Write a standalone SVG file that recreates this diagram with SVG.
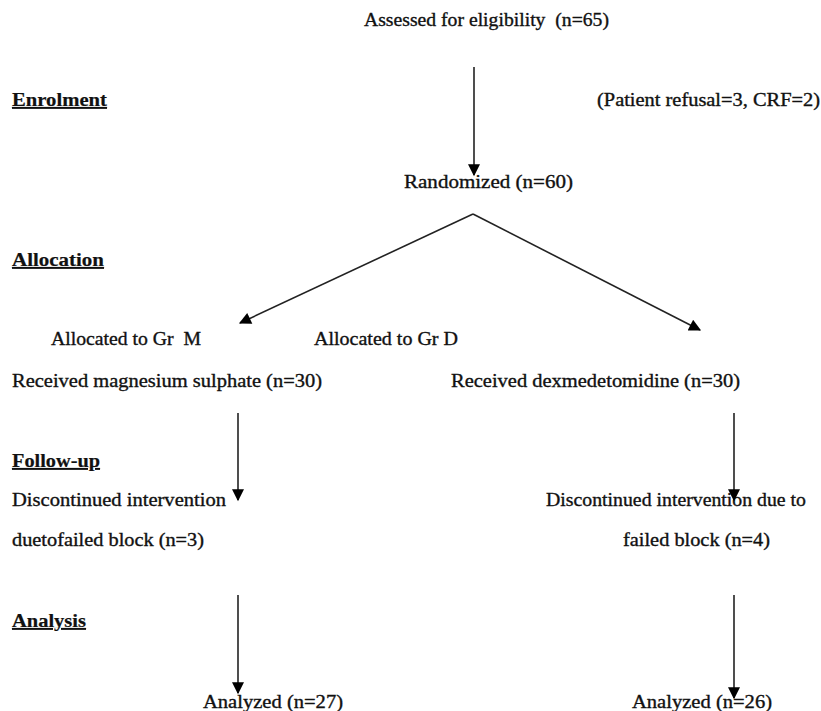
<svg xmlns="http://www.w3.org/2000/svg" width="821" height="711" viewBox="0 0 821 711">
<style>
text{font-family:"Liberation Serif","Times New Roman",serif;font-size:18.5px;fill:#111;stroke:#111;stroke-width:0.35}
.h{font-weight:bold;text-decoration:underline;stroke-width:0.2}
.c{stroke:#222;stroke-width:1.6;fill:none}
</style>
<defs>
<marker id="a" viewBox="0 0 10 10" refX="9" refY="5" markerWidth="13" markerHeight="12" markerUnits="userSpaceOnUse" orient="auto">
<path d="M0,0 L10,5 L0,10 z" fill="#000"/>
</marker>
</defs>
<rect width="821" height="711" fill="#fff"/>
<g id="labels">
<text class="h" x="12" y="106" textLength="95" lengthAdjust="spacingAndGlyphs">Enrolment</text>
<text class="h" x="12" y="266" textLength="92" lengthAdjust="spacingAndGlyphs">Allocation</text>
<text class="h" x="12" y="467" textLength="88" lengthAdjust="spacingAndGlyphs">Follow-up</text>
<text class="h" x="12" y="627" textLength="74" lengthAdjust="spacingAndGlyphs">Analysis</text>
</g>
<g id="assessed"><text x="364" y="26" textLength="245" lengthAdjust="spacingAndGlyphs">Assessed for eligibility&#160; (n=65)</text></g>
<g id="excluded"><text x="597" y="106" textLength="223" lengthAdjust="spacingAndGlyphs">(Patient refusal=3, CRF=2)</text></g>
<g id="randomized"><text x="404" y="188" textLength="169" lengthAdjust="spacingAndGlyphs">Randomized (n=60)</text></g>
<g id="allocM"><text x="51" y="345" textLength="150" lengthAdjust="spacingAndGlyphs">Allocated to Gr&#160; M</text></g>
<g id="allocD"><text x="314" y="345" textLength="144" lengthAdjust="spacingAndGlyphs">Allocated to Gr D</text></g>
<g id="recM"><text x="12" y="387" textLength="310" lengthAdjust="spacingAndGlyphs">Received magnesium sulphate (n=30)</text></g>
<g id="recD"><text x="451" y="387" textLength="289" lengthAdjust="spacingAndGlyphs">Received dexmedetomidine (n=30)</text></g>
<g id="discM">
<text x="12" y="506" textLength="214" lengthAdjust="spacingAndGlyphs">Discontinued intervention</text>
<text x="12" y="546" textLength="192" lengthAdjust="spacingAndGlyphs">duetofailed block (n=3)</text>
</g>
<g id="discD">
<text x="546" y="506" textLength="260" lengthAdjust="spacingAndGlyphs">Discontinued intervention due to</text>
<text x="623" y="546" textLength="147" lengthAdjust="spacingAndGlyphs">failed block (n=4)</text>
</g>
<g id="anM"><text x="203" y="708" textLength="140" lengthAdjust="spacingAndGlyphs">Analyzed (n=27)</text></g>
<g id="anD"><text x="632" y="708" textLength="140" lengthAdjust="spacingAndGlyphs">Analyzed (n=26)</text></g>
<g id="connectors">
<line class="c" x1="474" y1="67" x2="474" y2="175" marker-end="url(#a)"/>
<line class="c" x1="473" y1="214" x2="240" y2="323" marker-end="url(#a)"/>
<line class="c" x1="473" y1="214" x2="700" y2="330" marker-end="url(#a)"/>
<line class="c" x1="238" y1="413" x2="238" y2="500" marker-end="url(#a)"/>
<line class="c" x1="734" y1="413" x2="734" y2="500" marker-end="url(#a)"/>
<line class="c" x1="238" y1="595" x2="238" y2="693" marker-end="url(#a)"/>
<line class="c" x1="734" y1="595" x2="734" y2="698" marker-end="url(#a)"/>
</g>
</svg>
